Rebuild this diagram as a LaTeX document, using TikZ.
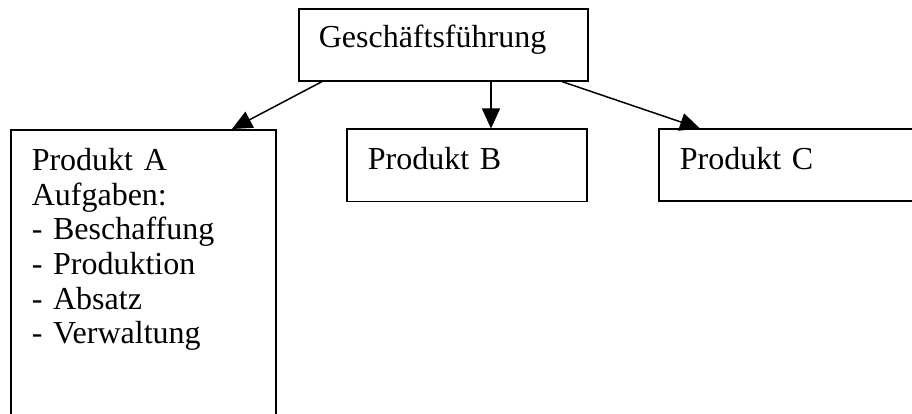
\documentclass[tikz,border=0pt]{standalone}
\usepackage{fontspec}
\setmainfont{Liberation Serif}
\usetikzlibrary{arrows.meta}

\tikzset{
  box/.style={draw, line width=1.6pt, rectangle, anchor=north west,
    inner xsep=21pt, inner ysep=0pt, align=left,
    font={\fontsize{32}{34.6}\selectfont}},
  link/.style={line width=1.5pt, -{Triangle[length=20pt,width=18pt]}}
}

\begin{document}
\begin{tikzpicture}[x=1pt, y=-1pt]
  \path[use as bounding box, clip] (0,0) rectangle (912,414);
  \fill[white] (0,0) rectangle (912,414);

  % management box
  \node[box, inner xsep=20pt, text width=249pt, text height=39pt, text depth=33pt]
    (gf) at (298,8) {Geschäftsführung};

  % product divisions
  \node[box, text width=223pt, text height=41pt, text depth=265pt]
    (pa) at (10,129) {Produkt A\\Aufgaben:\\- Beschaffung\\- Produktion\\- Absatz\\- Verwaltung};
  \node[box, text width=198pt, text height=40.5pt, text depth=31.5pt]
    (pb) at (346,128.5) {Produkt B};
  \node[box, text width=240pt, text height=40pt, text depth=31.5pt]
    (pc) at (658,128.5) {Produkt C};

  % reporting lines
  \draw[link] ([xshift=24pt]gf.south west) -- ([xshift=222pt]pa.north west);
  \draw[link] ([xshift=193pt]gf.south west) -- ([xshift=145pt]pb.north west);
  \draw[link] ([xshift=264pt]gf.south west) -- ([xshift=42pt]pc.north west);
\end{tikzpicture}
\end{document}
